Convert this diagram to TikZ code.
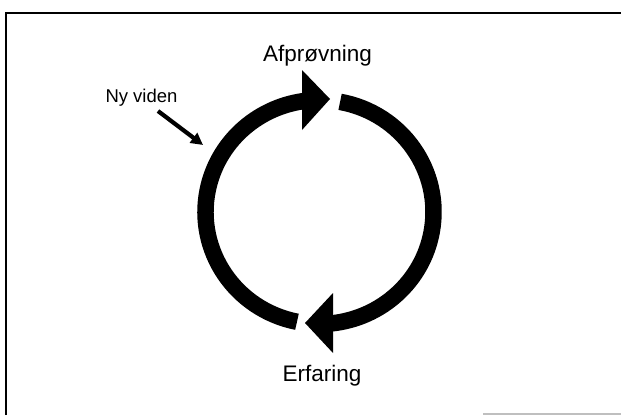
\documentclass[tikz,border=0pt]{standalone}
\usepackage{fontspec}
\setmainfont{Liberation Sans}
\usetikzlibrary{arrows.meta}
\begin{document}
\begin{tikzpicture}[x=1pt,y=-1pt,
  ring/.style={line width=16.5pt,line cap=butt,black},
  headshape/.style={fill=black,draw=none},
  label/.style={inner sep=0pt,anchor=base,text=black},
  framel/.style={line width=2pt,black},
  pointer/.style={line width=4.2pt,black,-{Triangle[length=12pt,width=12pt]}}]
\useasboundingbox (0,0) rectangle (621,415);
\fill[white] (0,0) rectangle (621,415);
% frame
\draw[framel] (6,415) -- (6,12.7) -- (621,12.7);
\draw[line width=1.5pt,black!25] (483,413.8) -- (621,413.8);
% ring centre
\coordinate (c) at (319.5,212);
% left arc (bottom -> top), with head pointing right
\draw[ring] ([shift={(101.4:114 and 112)}]c) arc[start angle=101.4,end angle=262,x radius=114,y radius=112];
\coordinate (hA1) at (302,70);
\coordinate (hA2) at (302,130);
\coordinate (hAt) at (330,99);
\fill[headshape] (hA1) -- (hAt) -- (hA2) -- cycle;
% right arc (top -> bottom), with head pointing left
\draw[ring] ([shift={(-79.6:114 and 112)}]c) arc[start angle=-79.6,end angle=84,x radius=114,y radius=112];
\coordinate (hB1) at (333,293);
\coordinate (hB2) at (333,353);
\coordinate (hBt) at (305,323);
\fill[headshape] (hB1) -- (hBt) -- (hB2) -- cycle;
% labels
\node[label,font=\fontsize{22.5}{26}\selectfont] (afp) at (317.5,61.5) {Afprøvning};
\node[label,font=\fontsize{22.5}{26}\selectfont] (erf) at (322,381) {Erfaring};
\node[label,font=\fontsize{18.5}{22}\selectfont] (ny) at (141.5,102.5) {Ny viden};
% pointer arrow
\coordinate (pS) at (158,111);
\coordinate (pE) at (203,145);
\draw[pointer] (pS) -- (pE);
\end{tikzpicture}
\end{document}
